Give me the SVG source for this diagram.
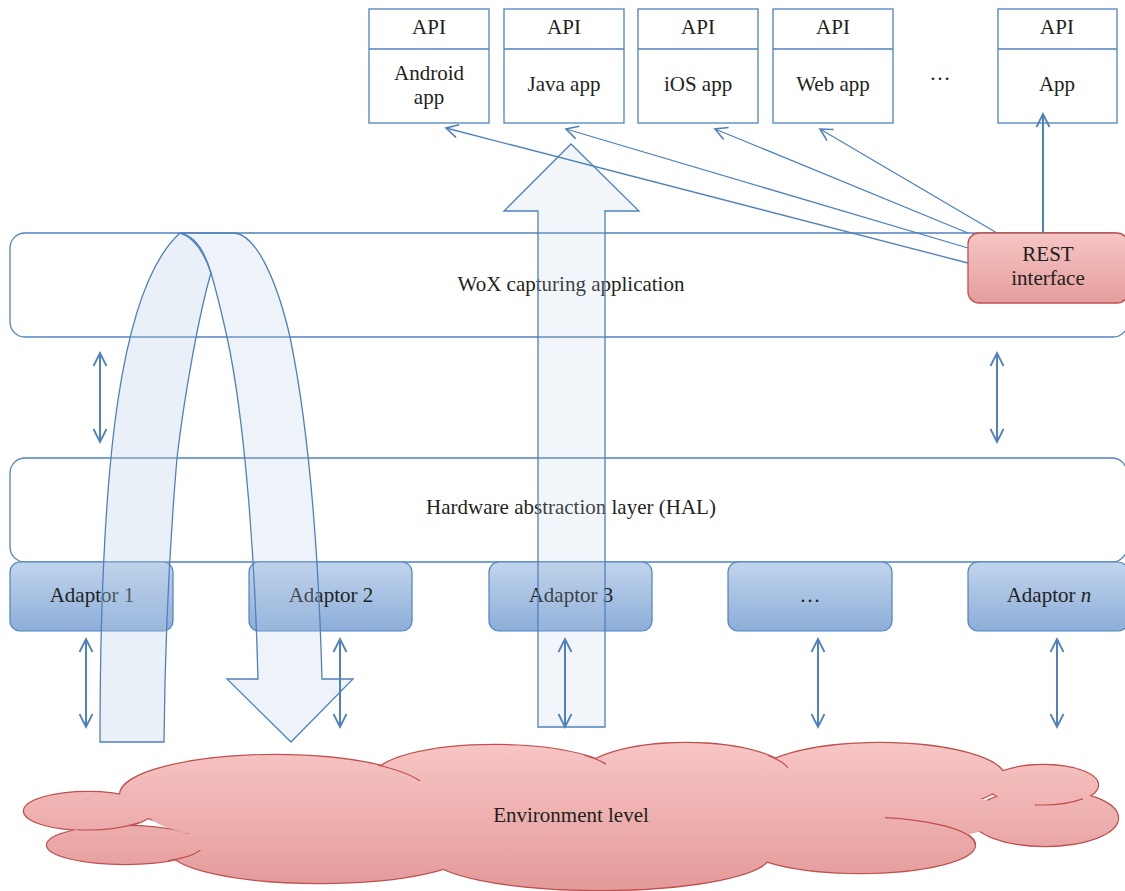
<svg xmlns="http://www.w3.org/2000/svg" width="1125" height="891" viewBox="0 0 1125 891">
<defs>
<linearGradient id="gAd" x1="0" y1="0" x2="0" y2="1"><stop offset="0" stop-color="#c1d4ec"/><stop offset="1" stop-color="#8caed9"/></linearGradient>
<linearGradient id="gRest" x1="0" y1="0" x2="0" y2="1"><stop offset="0" stop-color="#f6c6c5"/><stop offset="1" stop-color="#e49d9c"/></linearGradient>
<linearGradient id="gCloud" gradientUnits="userSpaceOnUse" x1="0" y1="743" x2="0" y2="890"><stop offset="0" stop-color="#f7c6c5"/><stop offset="1" stop-color="#e39a99"/></linearGradient>
<marker id="ah" viewBox="-14 -8 16 16" refX="0" refY="0" markerWidth="16" markerHeight="16" markerUnits="userSpaceOnUse" orient="auto-start-reverse"><path d="M-12,-6.5 L0,0 L-12,6.5" fill="none" stroke="#4f81bd" stroke-width="1.6"/></marker>
<marker id="ah2" viewBox="-14 -8 16 16" refX="0" refY="0" markerWidth="16" markerHeight="16" markerUnits="userSpaceOnUse" orient="auto-start-reverse"><path d="M-13,-6.5 L0,0 L-13,6.5" fill="none" stroke="#4f81bd" stroke-width="1.8"/></marker>
<clipPath id="k3"><rect x="378" y="760" width="42" height="25"/></clipPath>
<clipPath id="k4"><rect x="584" y="755" width="22" height="20"/></clipPath>
<clipPath id="k5"><rect x="768" y="750" width="20" height="24"/></clipPath>
<clipPath id="k7"><rect x="1035" y="795" width="48" height="12"/></clipPath>
<clipPath id="k9"><rect x="885" y="814" width="90" height="31"/></clipPath>
<clipPath id="k1"><rect x="78" y="822" width="74" height="12"/></clipPath>
<clipPath id="k2"><rect x="168" y="850" width="37" height="16"/></clipPath>
<style>
.box{fill:#fff;stroke:#4f81bd;stroke-width:1.3}
.lbl{font-family:'Liberation Serif',serif;font-size:21px;fill:#231f20;text-anchor:middle}
.ad{fill:url(#gAd);stroke:#4f81bd;stroke-width:1.2}
.dbl{stroke:#4f81bd;stroke-width:2;fill:none;marker-start:url(#ah2);marker-end:url(#ah2)}
.con{stroke:#4f81bd;stroke-width:1.3;fill:none;marker-end:url(#ah)}
.flow{stroke:#4f81bd;stroke-width:1.3}
.cs{fill:url(#gCloud);stroke:#c0504d;stroke-width:2.4}
.cf{fill:url(#gCloud);stroke:none}
.ci{fill:none;stroke:#c0504d;stroke-width:1.2}
</style>
</defs>

<g id="cloud">
<g>
<ellipse class="cs" cx="88" cy="811" rx="64" ry="19"/>
<ellipse class="cs" cx="125" cy="845" rx="78" ry="19"/>
<ellipse class="cs" cx="275" cy="795" rx="155" ry="40"/>
<ellipse class="cs" cx="495" cy="776" rx="120" ry="31"/>
<ellipse class="cs" cx="686" cy="776" rx="105" ry="33"/>
<ellipse class="cs" cx="880" cy="778" rx="125" ry="35"/>
<ellipse class="cs" cx="1043" cy="785" rx="55" ry="20"/>
<ellipse class="cs" cx="1045" cy="818" rx="73" ry="28"/>
<ellipse class="cs" cx="860" cy="845" rx="115" ry="28"/>
<ellipse class="cs" cx="600" cy="855" rx="170" ry="35"/>
<ellipse class="cs" cx="320" cy="850" rx="150" ry="33"/>
</g>
<g>
<ellipse class="cf" cx="88" cy="811" rx="64" ry="19"/>
<ellipse class="cf" cx="125" cy="845" rx="78" ry="19"/>
<ellipse class="cf" cx="275" cy="795" rx="155" ry="40"/>
<ellipse class="cf" cx="495" cy="776" rx="120" ry="31"/>
<ellipse class="cf" cx="686" cy="776" rx="105" ry="33"/>
<ellipse class="cf" cx="880" cy="778" rx="125" ry="35"/>
<ellipse class="cf" cx="1043" cy="785" rx="55" ry="20"/>
<ellipse class="cf" cx="1045" cy="818" rx="73" ry="28"/>
<ellipse class="cf" cx="860" cy="845" rx="115" ry="28"/>
<ellipse class="cf" cx="600" cy="855" rx="170" ry="35"/>
<ellipse class="cf" cx="320" cy="850" rx="150" ry="33"/>
<ellipse class="cf" cx="580" cy="815" rx="430" ry="45"/>
</g>
<ellipse class="ci" clip-path="url(#k3)" cx="275" cy="795" rx="155" ry="40"/>
<ellipse class="ci" clip-path="url(#k4)" cx="495" cy="776" rx="120" ry="31"/>
<ellipse class="ci" clip-path="url(#k5)" cx="686" cy="776" rx="105" ry="33"/>
<ellipse class="ci" clip-path="url(#k7)" cx="1043" cy="785" rx="55" ry="20"/>
<ellipse class="ci" clip-path="url(#k9)" cx="860" cy="845" rx="115" ry="28"/>
<ellipse class="ci" clip-path="url(#k1)" cx="88" cy="811" rx="64" ry="19"/>
<ellipse class="ci" clip-path="url(#k2)" cx="125" cy="845" rx="78" ry="19"/>
<text class="lbl" x="571" y="822">Environment level</text>
</g>

<g id="wox">
<rect class="box" x="10" y="233" width="1118" height="104" rx="15"/>
<text class="lbl" x="571" y="291">WoX capturing application</text>
</g>
<g id="hal">
<rect class="box" x="10" y="458" width="1117" height="104" rx="15"/>
<text class="lbl" x="571" y="514">Hardware abstraction layer (HAL)</text>
</g>

<g id="adaptor1"><rect class="ad" x="10" y="562" width="163" height="69" rx="10"/><text class="lbl" x="92" y="602">Adaptor 1</text></g>
<g id="adaptor2"><rect class="ad" x="249" y="562" width="163" height="69" rx="10"/><text class="lbl" x="331" y="602">Adaptor 2</text></g>
<g id="adaptor3"><rect class="ad" x="489" y="562" width="163" height="69" rx="10"/><text class="lbl" x="571" y="602">Adaptor 3</text></g>
<g id="adaptor-more"><rect class="ad" x="728" y="562" width="164" height="69" rx="10"/><text class="lbl" x="810" y="602">…</text></g>
<g id="adaptorN"><rect class="ad" x="968" y="562" width="160" height="69" rx="10"/><text class="lbl" x="1049" y="602">Adaptor <tspan font-style="italic">n</tspan></text></g>

<g id="rest">
<rect x="968" y="233" width="160" height="70" rx="11" fill="url(#gRest)" stroke="#c0504d" stroke-width="1.3"/>
<text class="lbl" x="1048" y="261">REST</text>
<text class="lbl" x="1048" y="285">interface</text>
</g>

<g id="api-android"><rect class="box" x="369" y="9" width="120" height="114"/><line class="box" x1="369" y1="49" x2="489" y2="49"/><text class="lbl" x="429" y="34">API</text><text class="lbl" x="429" y="80">Android</text><text class="lbl" x="429" y="104">app</text></g>
<g id="api-java"><rect class="box" x="504" y="9" width="120" height="114"/><line class="box" x1="504" y1="49" x2="624" y2="49"/><text class="lbl" x="564" y="34">API</text><text class="lbl" x="564" y="91">Java app</text></g>
<g id="api-ios"><rect class="box" x="638" y="9" width="120" height="114"/><line class="box" x1="638" y1="49" x2="758" y2="49"/><text class="lbl" x="698" y="34">API</text><text class="lbl" x="698" y="91">iOS app</text></g>
<g id="api-web"><rect class="box" x="773" y="9" width="120" height="114"/><line class="box" x1="773" y1="49" x2="893" y2="49"/><text class="lbl" x="833" y="34">API</text><text class="lbl" x="833" y="91">Web app</text></g>
<g id="api-dots"><text class="lbl" x="940" y="80">…</text></g>
<g id="api-app"><rect class="box" x="998" y="9" width="119" height="114"/><line class="box" x1="998" y1="49" x2="1117" y2="49"/><text class="lbl" x="1057" y="34">API</text><text class="lbl" x="1057" y="91">App</text></g>

<g id="flows">
<path class="flow" fill="#b8cce4" fill-opacity="0.3" d="M100,742 C100,600 106,480 118,400 C130,320 150,260 180,233 C195,238 205,255 211,273 C200,310 185,390 177,458 C170,540 165,640 164,742 Z"/>
<path class="flow" fill="#b8cce4" fill-opacity="0.24" d="M180,233 L235,233 C258,236 278,285 290,337 C303,400 317,500 322,679 L353,679 L291,742 L227,679 L258,679 C255,560 245,420 227,337 C221,310 216,290 211,273 C205,252 195,236 180,233 Z"/>
<polygon class="flow" fill="#b8cce4" fill-opacity="0.18" points="538,727 538,211 504,211 571,144 639,211 605,211 605,727"/>
</g>

<g id="connectors">
<line class="con" x1="968" y1="263" x2="446" y2="128"/>
<line class="con" x1="968" y1="248" x2="566" y2="129"/>
<line class="con" x1="968" y1="233" x2="715" y2="129"/>
<line class="con" x1="997" y1="233" x2="820" y2="129"/>
<line x1="1043" y1="233" x2="1043" y2="114" stroke="#4f81bd" stroke-width="2" marker-end="url(#ah2)"/>
<line class="dbl" x1="100" y1="353" x2="100" y2="442"/>
<line class="dbl" x1="997" y1="353" x2="997" y2="442"/>
<line class="dbl" x1="86" y1="639" x2="86" y2="727"/>
<line class="dbl" x1="340" y1="639" x2="340" y2="727"/>
<line class="dbl" x1="565" y1="639" x2="565" y2="727"/>
<line class="dbl" x1="818" y1="639" x2="818" y2="727"/>
<line class="dbl" x1="1057" y1="639" x2="1057" y2="727"/>
</g>
</svg>
